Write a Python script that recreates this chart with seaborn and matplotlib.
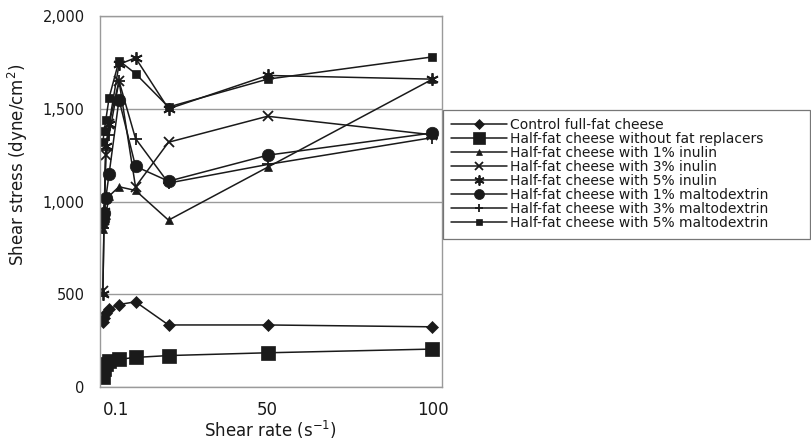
import numpy as np
import pandas as pd
import matplotlib
matplotlib.use("Agg")
import matplotlib.pyplot as plt
import matplotlib.ticker as mticker
import seaborn as sns

# Shear stress vs shear rate for the cheese samples
shear_rate = [0.1, 0.5, 1, 2, 5, 10, 20, 50, 100]

control_full_fat = [350, 375, 400, 420, 445, 460, 335, 335, 325]
half_fat_plain = [55, 100, 125, 140, 150, 160, 170, 185, 205]
inulin_1 = [850, 880, 930, 1030, 1080, 1060, 900, 1185, 1660]
inulin_3 = [520, 900, 1250, 1420, 1650, 1080, 1320, 1460, 1360]
inulin_5 = [500, 950, 1300, 1420, 1740, 1775, 1500, 1680, 1660]
malto_1 = [900, 940, 1020, 1150, 1550, 1190, 1110, 1250, 1370]
malto_3 = [860, 920, 1280, 1360, 1650, 1340, 1100, 1200, 1345]
malto_5 = [1320, 1380, 1440, 1560, 1760, 1690, 1510, 1660, 1780]

labels = [
    "Control full-fat cheese",
    "Half-fat cheese without fat replacers",
    "Half-fat cheese with 1% inulin",
    "Half-fat cheese with 3% inulin",
    "Half-fat cheese with 5% inulin",
    "Half-fat cheese with 1% maltodextrin",
    "Half-fat cheese with 3% maltodextrin",
    "Half-fat cheese with 5% maltodextrin",
]
series = [control_full_fat, half_fat_plain, inulin_1, inulin_3,
          inulin_5, malto_1, malto_3, malto_5]

x_ticks = [0.1, 50, 100]
x_tick_labels = ["0.1", "50", "100"]
y_ticks = [0, 500, 1000, 1500, 2000]

# marker style per series: (marker, size, edge width)
markers = [
    ("D", 6, 0.5),
    ("s", 10, 0.5),
    ("^", 6, 0.5),
    ("x", 7, 1.3),
    ((6, 2, 0), 9, 1.3),
    ("o", 9, 0.5),
    ("+", 8, 1.3),
    ("s", 6, 0.5),
]

sns.set_style("white")
plt.rcParams["font.family"] = ["DejaVu Sans"]

ink = "#1a1a1a"
fig = plt.figure(figsize=(8.12, 4.47), dpi=100)
ax = fig.add_axes([0.123, 0.134, 0.421, 0.83])

for vals, lab, (m, ms, mew) in zip(series, labels, markers):
    sns.lineplot(x=shear_rate, y=vals, ax=ax, color=ink, linewidth=1.1,
                 marker=m, markersize=ms, markeredgewidth=mew,
                 markeredgecolor=ink, label=lab, legend=False)

ax.set_xlim(-0.8, 102.8)
ax.set_ylim(0, 2000)
ax.set_yticks(y_ticks)
ax.yaxis.set_major_formatter(mticker.FuncFormatter(lambda v, p: f"{int(v):,}"))
ax.set_xticks(x_ticks)
ax.set_xticklabels(x_tick_labels)
ax.get_xticklabels()[0].set_horizontalalignment("left")
ax.tick_params(axis="y", length=0, labelsize=10.5, colors=ink, pad=11)
ax.tick_params(axis="x", length=0, labelsize=12, colors=ink, pad=10)
ax.yaxis.grid(True, color="#9a9a9a", linewidth=1.0)
ax.xaxis.grid(False)
for sp in ax.spines.values():
    sp.set_color("#9a9a9a")
    sp.set_linewidth(1.0)

ax.set_xlabel("Shear rate (s$^{-1}$)", fontsize=12, color=ink, labelpad=0)
ax.set_ylabel("Shear stress (dyne/cm$^{2}$)", fontsize=12, color=ink)
ax.yaxis.set_label_coords(-0.205, 0.60)

handles, labs = ax.get_legend_handles_labels()
leg = fig.legend(handles, labs, loc="upper left",
                 bbox_to_anchor=(0.5456, 0.447, 0.452, 0.307), mode="expand",
                 frameon=True, fancybox=False, fontsize=10, handlelength=4.0,
                 handletextpad=0.2, labelspacing=0.0, borderpad=0.6,
                 borderaxespad=0, markerscale=0.8)
leg.get_frame().set_edgecolor("#555555")
leg.get_frame().set_linewidth(0.9)
for t in leg.get_texts():
    t.set_color(ink)

fig.savefig("out.png", dpi=100)
